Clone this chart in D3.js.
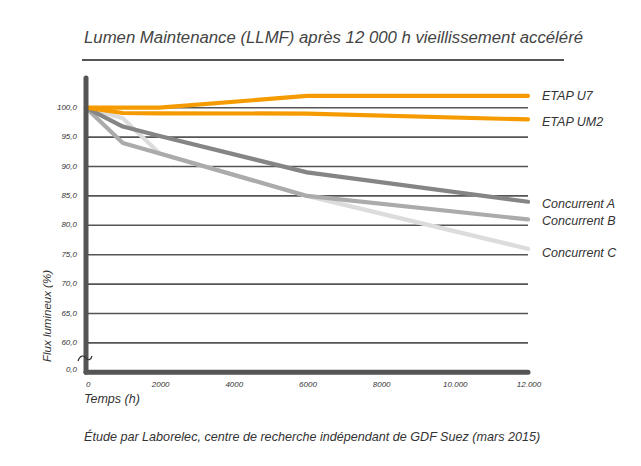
<!DOCTYPE html>
<html><head><meta charset="utf-8">
<script src="https://cdn.jsdelivr.net/npm/d3@7"></script>
<style>body{margin:0;background:#fff}svg{display:block}text{font-family:"Liberation Sans",Arial,sans-serif;font-style:italic}</style>
</head><body><svg id="c" width="641" height="466"></svg>
<script>
const hours = [0, 1000, 2000, 6000, 12000];
const etapU7 = [100, 100, 100, 102, 102];
const etapUM2 = [100, 99.1, 99.05, 99.0, 98.0];
const concA = [100, 96.8, 95.2, 89.0, 84.0];
const concB = [100, 94.0, 92.2, 85.0, 81.0];
const concC = [100, 98.2, 92.2, 85.0, 76.0];
const seriesNames = ["Concurrent C", "Concurrent B", "Concurrent A", "ETAP UM2", "ETAP U7"];
const seriesValues = [concC, concB, concA, etapUM2, etapU7];
const seriesColors = ["#dcdcdc", "#ababab", "#858585", "#f59b00", "#f59b00"];
const yTicks = [60, 65, 70, 75, 80, 85, 90, 95, 100];
const xTicks = [0, 2000, 4000, 6000, 8000, 10000, 12000];
const xTickLabels = ["0", "2000", "4000", "6000", "8000", "10.000", "12.000"];

const svg = d3.select("#c");
const x = d3.scaleLinear().domain([0, 12000]).range([86, 528]);
const y = d3.scaleLinear().domain([55, 100]).range([372.3, 107.7]);

// title
svg.append("text").attr("x", 84).attr("y", 43).attr("font-size", 16.75).attr("fill", "#444")
  .text("Lumen Maintenance (LLMF) après 12 000 h vieillissement accéléré");
svg.append("line").attr("x1", 82).attr("x2", 564).attr("y1", 60).attr("y2", 60)
  .attr("stroke", "#555").attr("stroke-width", 2);

// gridlines
svg.append("g").selectAll("line").data(yTicks).join("line")
  .attr("x1", x(0)).attr("x2", x(12000)).attr("y1", d => y(d)).attr("y2", d => y(d))
  .attr("stroke", "#555").attr("stroke-width", 1.6);

// y labels
const fmt = d => d3.format(".1f")(d).replace(".", ",");
svg.append("g").selectAll("text").data(yTicks).join("text")
  .attr("x", 77).attr("y", d => y(d) + 2).attr("text-anchor", "end")
  .attr("font-size", 8).attr("fill", "#333").text(fmt);
svg.append("text").attr("x", 77).attr("y", y(55) - 0.5).attr("text-anchor", "end")
  .attr("font-size", 8).attr("fill", "#333").text("0,0");

// series lines
const line = d3.line().x((d, i) => x(hours[i])).y(d => y(d));
svg.append("g").selectAll("path").data(seriesValues).join("path")
  .attr("d", d => line(d)).attr("fill", "none")
  .attr("stroke", (d, i) => seriesColors[i]).attr("stroke-width", 4.2)
  .attr("stroke-linecap", "round").attr("stroke-linejoin", "round");

// axes bars
svg.append("line").attr("x1", x(0)).attr("x2", x(0)).attr("y1", 78).attr("y2", y(55))
  .attr("stroke", "#555").attr("stroke-width", 5).attr("stroke-linecap", "round");
svg.append("line").attr("x1", x(0)).attr("x2", x(12000)).attr("y1", y(55)).attr("y2", y(55))
  .attr("stroke", "#555").attr("stroke-width", 5).attr("stroke-linecap", "round");

// break symbol
svg.append("path").attr("d", "M78,361 C80,355 84,355 86,358 C88,361 91,360 92,356")
  .attr("fill", "none").attr("stroke", "#333").attr("stroke-width", 1.2);

// x labels
svg.append("g").selectAll("text").data(xTicks).join("text")
  .attr("x", (d, i) => x(d) + (i === 0 ? 0 : 1)).attr("y", 387).attr("text-anchor", (d, i) => i === 0 ? "start" : "middle")
  .attr("font-size", 8).attr("fill", "#333").text((d, i) => xTickLabels[i]);

// series labels
const labelY = {"ETAP U7": 100, "ETAP UM2": 126, "Concurrent A": 208, "Concurrent B": 225, "Concurrent C": 257};
svg.append("g").selectAll("text").data(seriesNames).join("text")
  .attr("x", 542).attr("y", d => labelY[d]).attr("font-size", 12.5).attr("fill", "#333").text(d => d);

// axis titles
svg.append("text").attr("x", 84).attr("y", 403).attr("font-size", 12.5).attr("fill", "#333").text("Temps (h)");
svg.append("text").attr("transform", "translate(51,316) rotate(-90)").attr("text-anchor", "middle")
  .attr("font-size", 11.5).attr("fill", "#333").text("Flux lumineux (%)");

// footer
svg.append("text").attr("x", 84).attr("y", 441).attr("font-size", 12.6).attr("fill", "#333")
  .text("Étude par Laborelec, centre de recherche indépendant de GDF Suez (mars 2015)");
</script></body></html>
